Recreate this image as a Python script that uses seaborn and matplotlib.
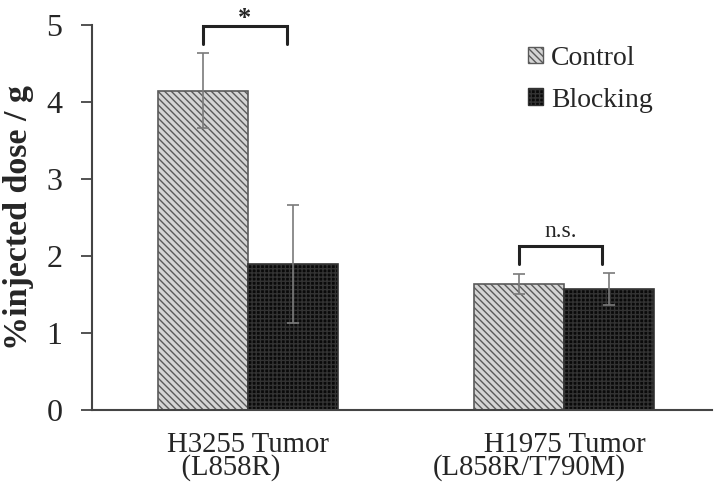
import pandas as pd
import seaborn as sns
import matplotlib.pyplot as plt
import matplotlib.transforms as mtransforms

groups = ["H3255 Tumor\n  (L858R)", "       H1975 Tumor\n(L858R/T790M)"]
conditions = ["Control", "Blocking"]
control_mean = [4.15, 1.64]
control_err = [0.49, 0.13]
blocking_mean = [1.90, 1.57]
blocking_err = [0.77, 0.21]
sig_labels = ["*", "n.s."]

df = pd.DataFrame({
    "group": groups * 2,
    "condition": [conditions[0]] * 2 + [conditions[1]] * 2,
    "value": control_mean + blocking_mean,
})

sns.set_theme(style="ticks")
plt.rcParams["font.family"] = ["Liberation Serif", "DejaVu Serif"]
plt.rcParams["hatch.linewidth"] = 1.0

fig = plt.figure(figsize=(7.22, 4.93), dpi=100)
ax = fig.add_axes([0.127, 0.168, 0.859, 0.781])

sns.barplot(data=df, x="group", y="value", hue="condition", hue_order=conditions,
            width=0.57, errorbar=None, ax=ax)

styles = [("#d4d4d4", "#5a5a5a", "\\\\\\\\\\"), ("#0a0a0a", "#333333", "++++")]
errs = [control_err, blocking_err]
means = [control_mean, blocking_mean]
for cont, (fc, ec, h), err, m in zip(ax.containers, styles, errs, means):
    for bar in cont:
        bar.set_facecolor(fc)
        bar.set_edgecolor(ec)
        bar.set_hatch(h)
        bar.set_linewidth(1.2)
    xs = [b.get_x() + b.get_width() / 2 for b in cont]
    ax.errorbar(xs, m, yerr=err, fmt="none", ecolor="#7a7a7a", elinewidth=1.2,
                capsize=4, capthick=1.2, zorder=5)

# significance brackets
for i, lab in enumerate(sig_labels):
    b1 = ax.containers[0][i]
    b2 = ax.containers[1][i]
    x1 = b1.get_x() + b1.get_width() / 2
    x2 = b2.get_x() + b2.get_width() / 2 - 0.02
    top = max(control_mean[i] + control_err[i], blocking_mean[i] + blocking_err[i])
    y0 = top + 0.12
    y1 = y0 + 0.23
    ax.plot([x1, x1, x2, x2], [y0, y1, y1, y0], color="#222222", lw=2.2,
            clip_on=False, solid_joinstyle="miter")
    if lab == "*":
        ax.text((x1 + x2) / 2, y1 + 0.01, lab, ha="center", va="baseline",
                fontsize=19, fontweight="bold", clip_on=False)
    else:
        ax.text((x1 + x2) / 2, y1 + 0.06, lab, ha="center", va="bottom",
                fontsize=17, clip_on=False)

ax.set_ylim(0, 5)
ax.set_xlim(-0.495, 1.47)
ax.set_yticks([0, 1, 2, 3, 4, 5])
ax.set_xlabel("")
ax.set_ylabel("%injected dose / g", fontsize=24.5, fontweight="bold", labelpad=9)
ax.tick_params(axis="y", labelsize=23, length=8, width=1.3, color="#444444", pad=13)
ax.tick_params(axis="x", labelsize=20.7, length=0, pad=16)
sns.despine(ax=ax)
for s in ["left", "bottom"]:
    ax.spines[s].set_color("#444444")
    ax.spines[s].set_linewidth(1.5)

xl = ax.get_xticklabels()
for t in xl:
    t.set_multialignment("left")
    t.set_linespacing(0.8)
xl[1].set_transform(xl[1].get_transform() +
                    mtransforms.ScaledTranslation(-0.24, 0, fig.dpi_scale_trans))

leg = ax.legend(loc="upper left", bbox_to_anchor=(0.685, 0.975), frameon=False,
                fontsize=20, handlelength=0.55, handleheight=0.55,
                handletextpad=0.3, labelspacing=0.6, borderaxespad=0)
for hnd, (fc, ec, h) in zip(leg.legend_handles, styles):
    hnd.set_facecolor(fc)
    hnd.set_edgecolor(ec)
    hnd.set_hatch(h)
    hnd.set_linewidth(1.0)

fig.savefig("out.png", dpi=100)
